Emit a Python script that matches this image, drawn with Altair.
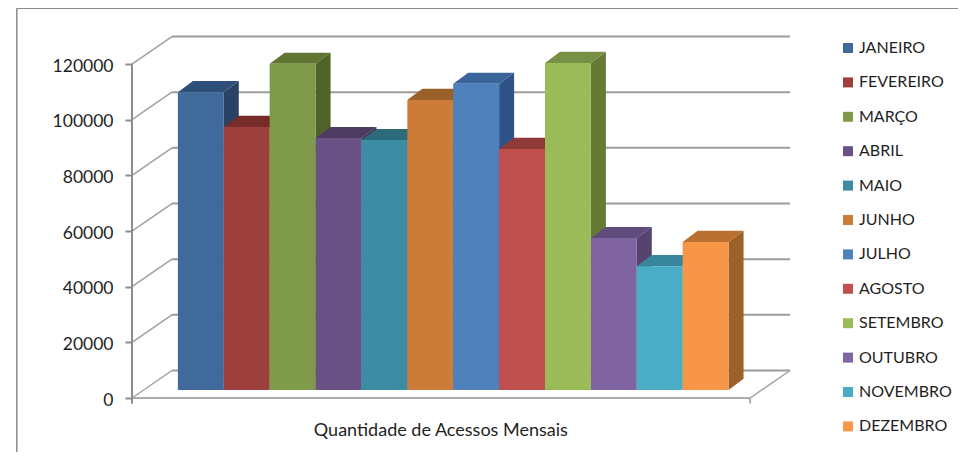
import altair as alt
import pandas as pd

months = ["JANEIRO", "FEVEREIRO", "MARÇO", "ABRIL", "MAIO", "JUNHO", "JULHO", "AGOSTO",
          "SETEMBRO", "OUTUBRO", "NOVEMBRO", "DEZEMBRO"]
values = [107000, 94500, 117200, 90500, 89800, 104200, 110000, 86600, 117500, 54600, 44500, 53200]
front_colors = ["#406A9C", "#9C3F3D", "#7F9A48", "#695185", "#3C8DA3", "#CC7B38",
                "#4F81BD", "#C0504D", "#9BBB59", "#8064A2", "#4BACC6", "#F79646"]
top_colors = ["#2E4F79", "#772C2A", "#5F7530", "#4D3B62", "#2C6A7C", "#9B5F2A",
              "#3A659A", "#903A38", "#769145", "#5F4B7C", "#37869B", "#BA7031"]
side_colors = ["#2A4364", "#632523", "#4F6228", "#403152", "#215968", "#7F4F1B",
               "#2F5386", "#7A2F2D", "#667A35", "#56436F", "#2F7488", "#9C602A"]
ticks = [0, 20000, 40000, 60000, 80000, 100000, 120000]

# projection of the 3-D box, in data units
WALL_DX, WALL_DY = 0.87, 9880
BAR_DX, BAR_DY = 0.327, 4000
BAR_BASE = 2874
AXIS_END = 13.47
FRAME_X, FRAME_TOP, FRAME_RIGHT, FRAME_BOTTOM = -2.51, 140000, 18, -25000

xs = alt.Scale(domain=[0, 18], range=[0, 826], nice=False, zero=False)
ys = alt.Scale(domain=[-19402, 140127], range=[444, 0], nice=False, zero=False)
y_axis = alt.Axis(values=ticks, format="d", title=None, domain=False, grid=False, tickSize=7, tickWidth=2,
                  tickColor="#8C8C8C", labelFont="Lato", labelFontSize=17.5, labelColor="#1F1F1F",
                  labelPadding=12, labelOffset=2)
X = alt.X("x:Q", scale=xs, axis=None)
Y = alt.Y("y:Q", scale=ys, axis=y_axis)
X2 = alt.X2("x2:Q")
Y2 = alt.Y2("y2:Q")

fronts = []
side_layers, top_layers = [], []
for i, (m, v, tc, sc) in enumerate(zip(months, values, top_colors, side_colors)):
    left, right = i + 1, i + 2
    base, top = BAR_BASE, BAR_BASE + v
    fronts.append(dict(mes=m, x=left, x2=right, y=top, y2=base))
    side = pd.DataFrame([dict(x=right, y=top, y2=base),
                         dict(x=right + BAR_DX, y=top + BAR_DY, y2=base + BAR_DY)])
    roof = pd.DataFrame([dict(x=left, y=top, y2=top),
                         dict(x=left + BAR_DX, y=top + BAR_DY, y2=top),
                         dict(x=right, y=top + BAR_DY, y2=top),
                         dict(x=right + BAR_DX, y=top + BAR_DY, y2=top + BAR_DY)])
    side_layers.append(alt.Chart(side).mark_area(color=sc, opacity=1).encode(x=X, y=Y, y2=Y2))
    top_layers.append(alt.Chart(roof).mark_area(color=tc, opacity=1).encode(x=X, y=Y, y2=Y2))

frame = pd.DataFrame([
    dict(x=FRAME_X, x2=FRAME_RIGHT, y=FRAME_TOP, y2=FRAME_TOP),
    dict(x=FRAME_X, x2=FRAME_X, y=FRAME_TOP, y2=FRAME_BOTTOM),
])
grid = pd.DataFrame([dict(x=WALL_DX, x2=AXIS_END + WALL_DX, y=t + WALL_DY, y2=t + WALL_DY) for t in ticks])
diag = pd.DataFrame([dict(x=0, x2=WALL_DX, y=t, y2=t + WALL_DY) for t in ticks]
                    + [dict(x=AXIS_END, x2=AXIS_END + WALL_DX, y=0, y2=WALL_DY)])
floor = pd.DataFrame([
    dict(x=0, x2=AXIS_END, y=0, y2=0),
    dict(x=0, x2=0, y=0, y2=-2000),
    dict(x=AXIS_END, x2=AXIS_END, y=0, y2=-2000),
])
axis_line = pd.DataFrame([dict(x=0, x2=0, y=-2000, y2=120000)])


def rules(df, color, width):
    return alt.Chart(df).mark_rule(color=color, strokeWidth=width).encode(x=X, x2=X2, y=Y, y2=Y2)


front_layer = alt.Chart(pd.DataFrame(fronts)).mark_rect().encode(
    x=X, x2=X2, y=Y, y2=Y2,
    color=alt.Color("mes:N", scale=alt.Scale(domain=months, range=front_colors), sort=months,
                    legend=alt.Legend(orient="none", legendX=708, legendY=32, title=None, columns=1,
                                      symbolType="square", symbolSize=100, symbolStrokeWidth=0,
                                      labelFont="Lato", labelFontSize=16, labelColor="#1F1F1F",
                                      rowPadding=18.4, labelLimit=130, labelOffset=3)))

title_layer = alt.Chart(pd.DataFrame([dict(x=6.73, y=-11900, t="Quantidade de Acessos Mensais")])).mark_text(
    font="Lato", fontSize=18, color="#1F1F1F", align="center", baseline="middle").encode(x=X, y=Y, text="t:N")

chart = alt.layer(
    rules(frame, "#8A8A8A", 1.5),
    rules(grid, "#9C9C9C", 2),
    rules(diag, "#A0A0A0", 1.5),
    rules(floor, "#ABABAB", 2),
    rules(axis_line, "#8C8C8C", 2),
    *side_layers,
    *top_layers,
    front_layer,
    title_layer,
).properties(
    width=826, height=444,
    padding={"left": 124, "top": 0, "right": 0, "bottom": 0},
    autosize=alt.AutoSizeParams(type="none"),
    background="white",
).configure_view(stroke=None)

chart.save("out.html", embed_options={"renderer": "svg", "actions": False})
